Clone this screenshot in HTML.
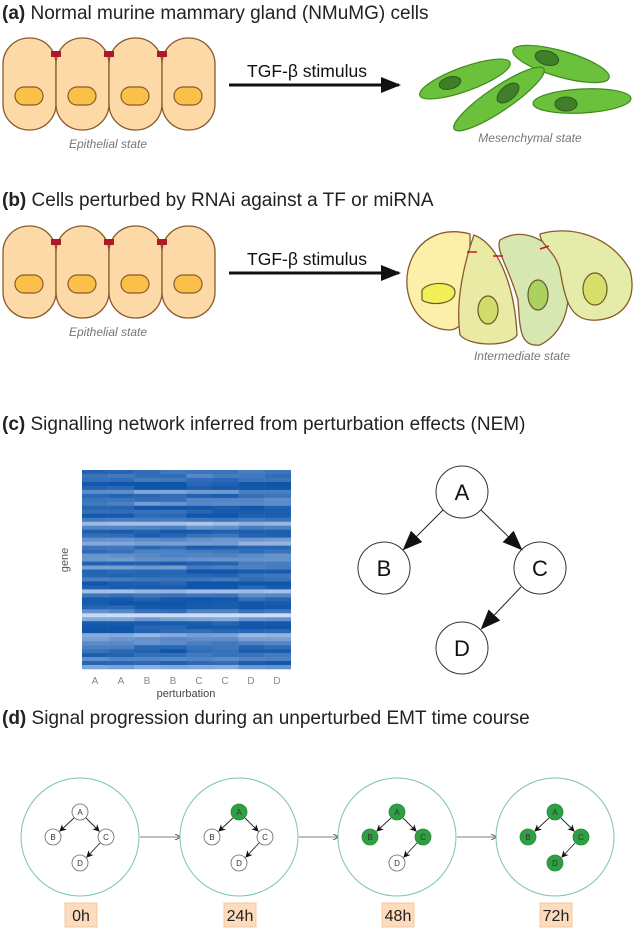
<!DOCTYPE html><html><head><style>body{margin:0;background:#fff}svg{display:block}text{font-family:"Liberation Sans",sans-serif}</style></head><body>
<svg width="633" height="929" viewBox="0 0 633 929" xmlns="http://www.w3.org/2000/svg">
<defs>
<marker id="big" markerWidth="20" markerHeight="16" refX="18" refY="8" orient="auto" markerUnits="userSpaceOnUse"><path d="M0,0 L20,8 L0,16z" fill="#111"/></marker>
<marker id="sm" markerWidth="7" markerHeight="7" refX="6" refY="3.5" orient="auto" markerUnits="userSpaceOnUse"><path d="M0,0 L7,3.5 L0,7 L2,3.5z" fill="#111"/></marker>
<marker id="th" markerWidth="6" markerHeight="6" refX="5" refY="3" orient="auto" markerUnits="userSpaceOnUse"><path d="M0,0 L6,3 L0,6" fill="none" stroke="#555"/></marker></defs>
<text x="2" y="19" font-size="19" fill="#222"><tspan font-weight="bold">(a)</tspan> Normal murine mammary gland (NMuMG) cells</text>
<g id="epA"></g>
<text x="108" y="148" font-size="12" fill="#777" font-style="italic" text-anchor="middle">Epithelial state</text>
<line x1="229" y1="85" x2="399" y2="85" stroke="#111" stroke-width="3" marker-end="url(#big)"/>
<text x="307" y="77" font-size="17.5" fill="#111" text-anchor="middle">TGF-β stimulus</text>
<g stroke="#3e8a1e" stroke-width="1.2" fill="#6cc13c">
<ellipse cx="561" cy="64" rx="50" ry="13" transform="rotate(16 561 64)"/><ellipse cx="465" cy="79" rx="48" ry="12" transform="rotate(-20 465 79)"/><ellipse cx="499" cy="99" rx="54" ry="12" transform="rotate(-34 499 99)"/><ellipse cx="582" cy="101" rx="49" ry="12" transform="rotate(-3 582 101)"/></g>
<g stroke="#2e5a1a" fill="#3f7f2a"><ellipse cx="547" cy="58" rx="12" ry="7" transform="rotate(16 547 58)"/><ellipse cx="450" cy="83" rx="11" ry="6" transform="rotate(-15 450 83)"/><ellipse cx="508" cy="93" rx="13" ry="7" transform="rotate(-40 508 93)"/><ellipse cx="566" cy="104" rx="11" ry="7"/></g>
<text x="530" y="142" font-size="12" fill="#777" font-style="italic" text-anchor="middle">Mesenchymal state</text>

<text x="2" y="206" font-size="19" fill="#222"><tspan font-weight="bold">(b)</tspan> Cells perturbed by RNAi against a TF or miRNA</text>
<g id="epB"></g>
<text x="108" y="336" font-size="12" fill="#777" font-style="italic" text-anchor="middle">Epithelial state</text>
<line x1="229" y1="273" x2="399" y2="273" stroke="#111" stroke-width="3" marker-end="url(#big)"/>
<text x="307" y="265" font-size="17.5" fill="#111" text-anchor="middle">TGF-β stimulus</text>
<g stroke="#8a5a2a" stroke-width="1.3">
<path d="M470,234 C440,226 415,240 408,270 C402,300 420,330 450,330 C470,328 470,300 470,270Z" fill="#fcefaa"/>
<path d="M474,235 C500,245 515,290 517,335 C510,347 470,347 460,335 C455,300 465,260 474,235Z" fill="#e9eaa3"/>
<path d="M500,240 C520,228 545,236 560,260 C575,290 570,330 540,345 C520,347 520,330 518,300 C510,270 495,250 500,240Z" fill="#d7e7b1"/>
<path d="M540,234 C570,225 610,235 630,270 C640,310 610,322 590,320 C570,318 565,300 560,270 C555,250 540,245 540,234Z" fill="#e5eca9"/></g>
<g stroke="#6a5a2a" stroke-width="1.2"><path d="M422,290 C430,280 455,282 455,292 C455,305 430,306 422,300Z" fill="#f1ee56"/><ellipse cx="488" cy="310" rx="10" ry="14" fill="#cfdc6a"/><ellipse cx="538" cy="295" rx="10" ry="15" fill="#a9d260"/><ellipse cx="595" cy="289" rx="12" ry="16" fill="#d5df6a"/></g>
<g stroke="#c0182a" stroke-width="1.5"><line x1="467" y1="252" x2="477" y2="252"/><line x1="493" y1="256" x2="503" y2="256"/><line x1="540" y1="249" x2="549" y2="246"/></g>
<text x="522" y="360" font-size="12" fill="#777" font-style="italic" text-anchor="middle">Intermediate state</text>

<text x="2" y="430" font-size="19" fill="#222"><tspan font-weight="bold">(c)</tspan> Signalling network inferred from perturbation effects (NEM)</text>
<g id="hm"></g>
<text x="68" y="560" font-size="11" fill="#555" text-anchor="middle" transform="rotate(-90 68 560)">gene</text>
<g font-size="10" fill="#888" text-anchor="middle"><text x="95" y="684">A</text><text x="121" y="684">A</text><text x="147" y="684">B</text><text x="173" y="684">B</text><text x="199" y="684">C</text><text x="225" y="684">C</text><text x="251" y="684">D</text><text x="277" y="684">D</text></g>
<text x="186" y="697" font-size="11" fill="#444" text-anchor="middle">perturbation</text>
<g stroke="#333" fill="#fff" stroke-width="1"><circle cx="462" cy="492" r="26"/><circle cx="384" cy="568" r="26"/><circle cx="540" cy="568" r="26"/><circle cx="462" cy="648" r="26"/></g>
<g stroke="#222" stroke-width="1"><line x1="443" y1="510" x2="404" y2="549" marker-end="url(#big)"/><line x1="481" y1="510" x2="521" y2="549" marker-end="url(#big)"/><line x1="521" y1="587" x2="482" y2="628" marker-end="url(#big)"/></g>
<g font-size="22" fill="#111" text-anchor="middle"><text x="462" y="500">A</text><text x="384" y="576">B</text><text x="540" y="576">C</text><text x="462" y="656">D</text></g>

<text x="2" y="724" font-size="19" fill="#222"><tspan font-weight="bold">(d)</tspan> Signal progression during an unperturbed EMT time course</text>
<g id="dd"></g>
</svg>
<script>
function ep(id,y0){var h='<g stroke="#8a5a2a" stroke-width="1.3" fill="#fcd9a6">';
for(var i=0;i<4;i++)h+='<rect x="'+(3+i*53)+'" y="'+y0+'" width="53" height="92" rx="26"/>';
h+='</g><g stroke="#8a5a2a" stroke-width="1.2" fill="#fbc04a">';
for(var i=0;i<4;i++)h+='<rect x="'+(15+i*53)+'" y="'+(y0+49)+'" width="28" height="18" rx="9"/>';
h+='</g><g fill="#b0182a">';
for(var i=1;i<4;i++)h+='<rect x="'+(3+i*53-5)+'" y="'+(y0+13)+'" width="10" height="6"/>';
document.getElementById(id).innerHTML=h+'</g>';}
ep('epA',38);ep('epB',226);
var s=7;function r(){s=(s*9301+49297)%233280;return s/233280;}
var hm=document.getElementById('hm'),h='',rows=50,rh=199/rows;
for(var i=0;i<rows;i++){var base=r();base=base*base*0.7+0.05;if(r()<0.06)base+=0.35;for(var p=0;p<4;p++){var pb=base+(r()-0.5)*0.25;for(var c=0;c<2;c++){var v=Math.min(1,Math.max(0,pb+(r()-0.5)*0.1));
var R=Math.round(15+v*190),G=Math.round(85+v*135),B=Math.round(170+v*75);
h+='<rect x="'+(82+(p*2+c)*26.1)+'" y="'+(470+i*rh)+'" width="26.3" height="'+(rh+0.3)+'" fill="rgb('+R+','+G+','+B+')"/>';}}}
hm.innerHTML=h;
var cx=[80,239,397,555],lab=['0h','24h','48h','72h'],act=[[],['A'],['A','B','C'],['A','B','C','D']],d='';
for(var k=0;k<4;k++){var x=cx[k];d+='<ellipse cx="'+x+'" cy="837" rx="59" ry="59" fill="#fff" stroke="#7cc2b8" stroke-width="1"/>';
var n={A:[x,812],B:[x-27,837],C:[x+26,837],D:[x,863]};
d+='<g stroke="#222" stroke-width="0.9"><line x1="'+(x-6)+'" y1="818" x2="'+(x-20)+'" y2="831" marker-end="url(#sm)"/><line x1="'+(x+6)+'" y1="818" x2="'+(x+19)+'" y2="831" marker-end="url(#sm)"/><line x1="'+(x+20)+'" y1="843" x2="'+(x+7)+'" y2="857" marker-end="url(#sm)"/></g>';
for(var key in n){var on=act[k].indexOf(key)>=0;d+='<circle cx="'+n[key][0]+'" cy="'+n[key][1]+'" r="8" fill="'+(on?'#2ea043':'#fff')+'" stroke="'+(on?'#2a8a3a':'#666')+'" stroke-width="0.8"/><text x="'+n[key][0]+'" y="'+(n[key][1]+3)+'" font-size="8" text-anchor="middle" fill="#333">'+key+'</text>';}
d+='<rect x="'+(x-15)+'" y="903" width="32" height="24" fill="#fcdcbc" stroke="#f3c8a0"/><text x="'+(x+1)+'" y="921" font-size="16" text-anchor="middle" fill="#222">'+lab[k]+'</text>';
if(k<3)d+='<line x1="'+(x+60)+'" y1="837" x2="'+(cx[k+1]-59)+'" y2="837" stroke="#555" stroke-width="0.8" marker-end="url(#th)"/>';}
document.getElementById('dd').innerHTML=d;
</script></body></html>
